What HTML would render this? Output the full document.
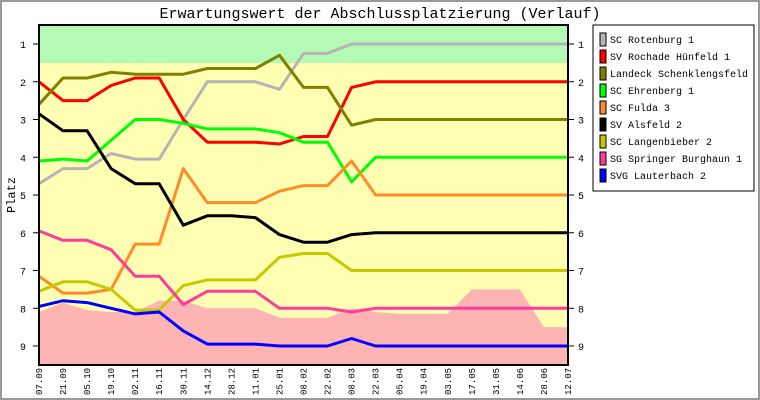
<!DOCTYPE html>
<html><head><meta charset="utf-8"><style>
body{margin:0;background:#fff}
svg{display:block;font-family:"Liberation Mono",monospace}
</style></head><body>
<svg id="s" width="760" height="400" xmlns="http://www.w3.org/2000/svg">
<rect x="1" y="1" width="758" height="398" fill="#fff" stroke="#999" stroke-width="2"/>
<text x="380" y="18" text-anchor="middle" font-size="15">Erwartungswert der Abschlussplatzierung (Verlauf)</text>
<rect x="39" y="25" width="529" height="340" fill="#ffffb4"/>
<rect x="39" y="25" width="529" height="38" fill="#b4fab4"/>
<g id="area"></g>
<g id="lines"></g>
<rect x="39" y="25" width="529" height="340" fill="none" stroke="#000" stroke-width="2"/>
<g id="ticks" font-size="10"></g>
<text transform="translate(15,195) rotate(-90)" text-anchor="middle" font-size="12">Platz</text>
<rect x="593" y="25" width="161" height="166" fill="#fff" stroke="#000" stroke-width="1"/>
<g id="leg" font-size="10"></g>
</svg>
<script>
const X=i=>39+i*529/22, Y=r=>44+(r-1)*37.75;
const dates=["07.09","21.09","05.10","19.10","02.11","16.11","30.11","14.12","28.12","11.01","25.01","08.02","22.02","08.03","22.03","05.04","19.04","03.05","17.05","31.05","14.06","28.06","12.07"];
const N=23;
function fill(a,v){while(a.length<N)a.push(v);return a}
const ser=[
["SC Rotenburg 1","#b4b4b4",fill([4.7,4.3,4.3,3.9,4.05,4.05,3.0,2.0,2.0,2.0,2.2,1.25,1.25,1.0],1)],
["SV Rochade Hünfeld 1","#ff0000",fill([2.0,2.5,2.5,2.1,1.9,1.9,3.0,3.6,3.6,3.6,3.65,3.45,3.45,2.15],2)],
["Landeck Schenklengsfeld","#808000",fill([2.6,1.9,1.9,1.75,1.8,1.8,1.8,1.65,1.65,1.65,1.3,2.15,2.15,3.15],3)],
["SC Ehrenberg 1","#00ff00",fill([4.1,4.05,4.1,3.55,3.0,3.0,3.1,3.25,3.25,3.25,3.35,3.6,3.6,4.65],4)],
["SC Fulda 3","#ff8c28",fill([7.15,7.6,7.6,7.5,6.3,6.3,4.3,5.2,5.2,5.2,4.9,4.75,4.75,4.1],5)],
["SV Alsfeld 2","#000000",fill([2.85,3.3,3.3,4.3,4.7,4.7,5.8,5.55,5.55,5.6,6.05,6.25,6.25,6.05],6)],
["SC Langenbieber 2","#c8c800",fill([7.55,7.3,7.3,7.5,8.05,8.05,7.4,7.25,7.25,7.25,6.65,6.55,6.55,7.0],7)],
["SG Springer Burghaun 1","#ff3c9c",fill([5.95,6.2,6.2,6.45,7.15,7.15,7.9,7.55,7.55,7.55,8.0,8.0,8.0,8.1],8)],
["SVG Lauterbach 2","#0000ff",fill([7.95,7.8,7.85,8.0,8.15,8.1,8.6,8.95,8.95,8.95,9.0,9.0,9.0,8.8],9)]
];
const ns="http://www.w3.org/2000/svg";
function el(p,t,a,txt){const e=document.createElementNS(ns,t);for(const k in a)e.setAttribute(k,a[k]);if(txt!=null)e.textContent=txt;p.appendChild(e);return e}
const area=[8.1,7.85,8.05,8.1,8.1,7.8,7.8,8.0,8.0,8.0,8.25,8.25,8.25,8.0,8.1,8.15,8.15,8.15,7.5,7.5,7.5,8.5,8.5];
let d="M39,365 ";area.forEach((r,i)=>d+="L"+X(i).toFixed(1)+","+Y(r).toFixed(1)+" ");d+="L568,365Z";
el(document.getElementById("area"),"path",{d:d,fill:"#ffb4b4"});
const L=document.getElementById("lines");
ser.forEach(s=>{let v=s[2];el(L,"polyline",{points:v.map((r,i)=>X(i).toFixed(1)+","+Y(r).toFixed(1)).join(" "),fill:"none",stroke:s[1],"stroke-width":3,"stroke-linejoin":"round"})});
const T=document.getElementById("ticks");
for(let r=1;r<=9;r++){const y=Y(r);el(T,"line",{x1:33,x2:39,y1:y,y2:y,stroke:"#000"});el(T,"line",{x1:568,x2:574,y1:y,y2:y,stroke:"#000"});
el(T,"text",{x:26,y:y+4,"text-anchor":"end"},r);el(T,"text",{x:578,y:y+4},r);}
dates.forEach((t,i)=>{el(T,"text",{transform:`translate(${X(i)+3},395) rotate(-90)`,"font-size":"9"},t)});
const G=document.getElementById("leg");
ser.forEach((s,i)=>{const y=33+i*17;el(G,"rect",{x:600,y:y,width:6,height:13,fill:s[1],stroke:"#000"});el(G,"text",{x:610,y:y+10},s[0])});
</script>
</body></html>
